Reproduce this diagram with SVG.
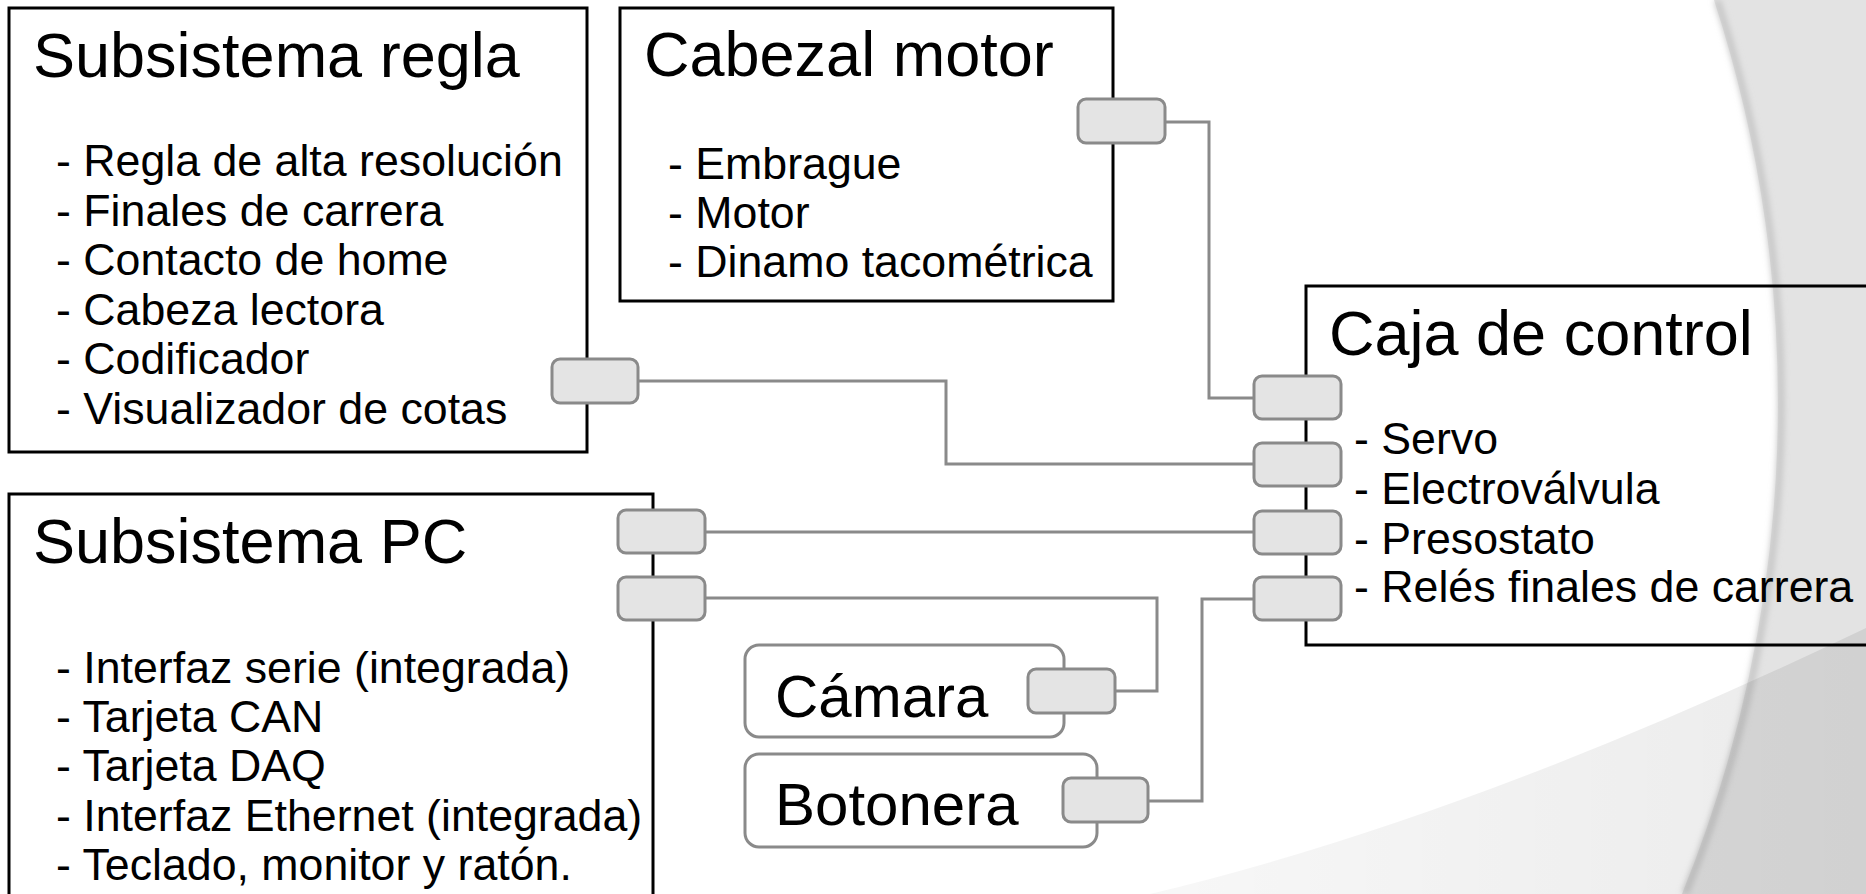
<svg xmlns="http://www.w3.org/2000/svg" width="1866" height="894" viewBox="0 0 1866 894">
  <style>
    .box { fill: none; stroke: #000; stroke-width: 3; }
    .dev { fill: #fff; stroke: #8a8a8a; stroke-width: 3; }
    .port { fill: #e4e4e4; stroke: #8a8a8a; stroke-width: 3; }
    .wire { fill: none; stroke: #8a8a8a; stroke-width: 3; }
    .title { font-family: "Liberation Sans", Arial, sans-serif; font-size: 63px; fill: #000; }
    .label { font-family: "Liberation Sans", Arial, sans-serif; font-size: 60px; fill: #000; }
    .item { font-family: "Liberation Sans", Arial, sans-serif; font-size: 44.7px; fill: #000; }
  </style>
  <defs>
    <filter id="soft" x="-0.1" y="-0.1" width="1.2" height="1.2">
      <feGaussianBlur stdDeviation="3"/>
    </filter>
    <linearGradient id="band" x1="0" y1="0" x2="1" y2="0">
      <stop offset="0" stop-color="#000" stop-opacity="0.03"/>
      <stop offset="1" stop-color="#000" stop-opacity="0.08"/>
    </linearGradient>
  </defs>

  <!-- slide background -->
  <g id="background">
    <rect x="0" y="0" width="1866" height="894" fill="#fff"/>
    <path d="M1714 0 A1303 1303 0 0 1 1682 894 L1866 894 L1866 0 Z" fill="#e3e3e3"/>
    <path d="M1714 0 A1303 1303 0 0 1 1682 894" fill="none" stroke="#c2c2c2" stroke-width="6" filter="url(#soft)" transform="translate(3 0)"/>
    <path d="M1150 894 Q1470 818 1866 628 L1866 894 Z" fill="url(#band)"/>
  </g>

  <!-- connectors -->
  <g id="connectors">
    <polyline class="wire" points="1165,122 1209,122 1209,398 1254,398"/>
    <polyline class="wire" points="638,381 946,381 946,464 1254,464"/>
    <polyline class="wire" points="705,532 1254,532"/>
    <polyline class="wire" points="705,598 1157,598 1157,691 1115,691"/>
    <polyline class="wire" points="1148,801 1202,801 1202,599 1254,599"/>
  </g>

  <g id="subsistema-regla">
    <rect class="box" x="9" y="8" width="578" height="444"/>
    <text class="title" x="33" y="77">Subsistema regla</text>
    <text class="item" x="56" y="176">- Regla de alta resolución</text>
    <text class="item" x="56" y="225.5">- Finales de carrera</text>
    <text class="item" x="56" y="275">- Contacto de home</text>
    <text class="item" x="56" y="324.5">- Cabeza lectora</text>
    <text class="item" x="56" y="374">- Codificador</text>
    <text class="item" x="56" y="423.5">- Visualizador de cotas</text>
    <rect class="port" x="552" y="359" width="86" height="44" rx="8"/>
  </g>

  <g id="cabezal-motor">
    <rect class="box" x="620" y="8" width="493" height="293"/>
    <text class="title" x="644" y="76">Cabezal motor</text>
    <text class="item" x="668" y="178.5">- Embrague</text>
    <text class="item" x="668" y="228">- Motor</text>
    <text class="item" x="668" y="277">- Dinamo tacométrica</text>
    <rect class="port" x="1078" y="99" width="87" height="44" rx="8"/>
  </g>

  <g id="caja-control">
    <rect class="box" x="1306" y="286" width="580" height="359"/>
    <text class="title" x="1329" y="355">Caja de control</text>
    <text class="item" x="1354" y="454">- Servo</text>
    <text class="item" x="1354" y="504">- Electroválvula</text>
    <text class="item" x="1354" y="554">- Presostato</text>
    <text class="item" x="1354" y="602">- Relés finales de carrera</text>
    <rect class="port" x="1254" y="376" width="87" height="43" rx="8"/>
    <rect class="port" x="1254" y="443" width="87" height="43" rx="8"/>
    <rect class="port" x="1254" y="511" width="87" height="43" rx="8"/>
    <rect class="port" x="1254" y="577" width="87" height="43" rx="8"/>
  </g>

  <g id="subsistema-pc">
    <rect class="box" x="9" y="494" width="644" height="420"/>
    <text class="title" x="33" y="563">Subsistema PC</text>
    <text class="item" x="56" y="683">- Interfaz serie (integrada)</text>
    <text class="item" x="56" y="732">- Tarjeta CAN</text>
    <text class="item" x="56" y="781">- Tarjeta DAQ</text>
    <text class="item" x="56" y="831">- Interfaz Ethernet (integrada)</text>
    <text class="item" x="56" y="880">- Teclado, monitor y ratón.</text>
    <rect class="port" x="618" y="510" width="87" height="43" rx="8"/>
    <rect class="port" x="618" y="577" width="87" height="43" rx="8"/>
  </g>

  <g id="camara">
    <rect class="dev" x="745" y="645" width="319" height="92" rx="14"/>
    <text class="label" x="775" y="717">Cámara</text>
    <rect class="port" x="1028" y="669" width="87" height="44" rx="8"/>
  </g>

  <g id="botonera">
    <rect class="dev" x="745" y="754" width="352" height="93" rx="14"/>
    <text class="label" x="775" y="825">Botonera</text>
    <rect class="port" x="1063" y="778" width="85" height="44" rx="8"/>
  </g>
</svg>
